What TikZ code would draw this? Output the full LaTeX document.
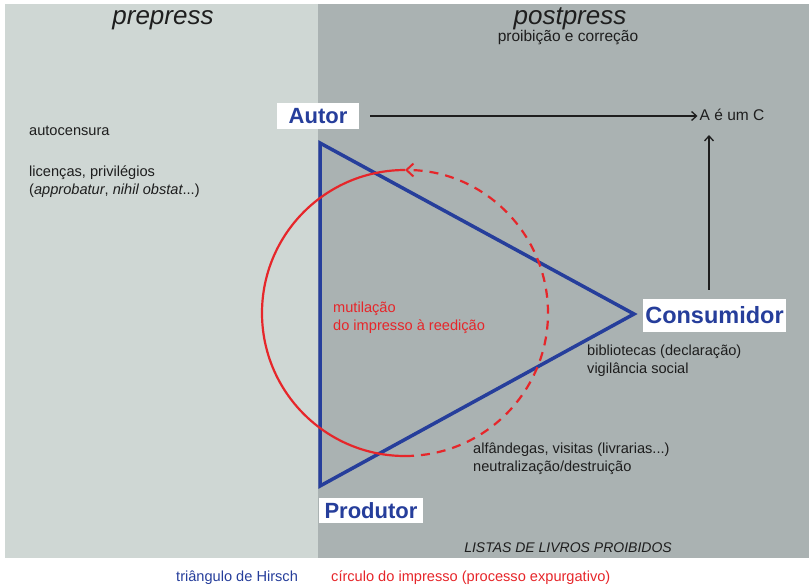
\documentclass[tikz,border=0pt]{standalone}
\usepackage{fontspec}
\setmainfont{Liberation Sans}
\usetikzlibrary{arrows.meta}
\definecolor{prebg}{RGB}{207,215,212}
\definecolor{postbg}{RGB}{170,178,178}
\definecolor{hblue}{RGB}{38,62,155}
\definecolor{cred}{RGB}{230,38,42}
\definecolor{ink}{RGB}{30,30,30}
\tikzset{
  actor/.style={fill=white,text=hblue,font=\fontsize{22}{22}\selectfont\bfseries,inner sep=0pt},
  note/.style={anchor=base west,text=ink,font=\fontsize{14.6}{18}\selectfont,align=left,inner sep=0pt},
  phase/.style={anchor=base,text=ink,font=\fontsize{26}{26}\selectfont\itshape,inner sep=0pt},
  flow/.style={line width=1.3pt,ink,-{Straight Barb[length=5pt,width=9pt,line width=1.3pt]}}
}
\begin{document}
\begin{tikzpicture}[x=1pt,y=1pt]
\useasboundingbox (0,0) rectangle (809,-587);
% the two phases
\fill[prebg] (5,-4) rectangle (318,-558);
\fill[postbg] (318,-4) rectangle (809,-558);
\node[phase] (pre) at (163,-24) {prepress};
\node[phase] (post) at (570,-24) {postpress};
\node[note,anchor=base,font=\fontsize{15.5}{18}\selectfont] (postsub) at (568,-41) {proibição e correção};
% prepress notes
\node[note] (auto) at (29,-135) {autocensura};
\node[note] (lic) at (29,-194) {licenças, privilégios\\(\textit{approbatur}, \textit{nihil obstat}...)};
% triangle of Hirsch
\coordinate (ta) at (320,-143);
\coordinate (tp) at (320,-486);
\coordinate (tc) at (634,-314);
\draw[hblue,line width=3.5pt,line join=miter] (ta) -- (tc) -- (tp) -- cycle;
% circle of the printed book
\coordinate (ctop) at (405,-170);
\coordinate (cbot) at (405,-456);
\draw[cred,line width=2.2pt] (ctop) arc (90:270:143);
\draw[cred,line width=2.2pt,dash pattern=on 9pt off 7pt,-{Straight Barb[length=7pt,width=13pt,line width=2pt]}] (cbot) arc (270:450:143);
\node[note,text=cred] (mut) at (333,-330) {mutilação\\do impresso à reedição};
% actors
\node[actor,minimum width=82pt,minimum height=26pt] (autor) at (318,-116) {Autor};
\node[actor,font=\fontsize{23.5}{23.5}\selectfont\bfseries,minimum width=143pt,minimum height=33pt] (cons) at (714.5,-315.5) {Consumidor};
\node[actor,minimum width=104pt,minimum height=25pt] (prod) at (371,-510.5) {Produtor};
\node[note,anchor=base,font=\fontsize{15.5}{18}\selectfont] (aec) at (732,-120) {A é um C};
\coordinate (upx) at (709,-135);
\draw[flow] (autor.east) ++(11pt,0) coordinate (af) -- ([xshift=-2pt]aec.west |- af);
\draw[flow] (upx |- cons.north) ++(0,9pt) -- (upx);
% postpress notes
\node[note] (bib) at (587,-373) {bibliotecas (declaração)\\vigilância social};
\node[note] (alf) at (473,-471) {alfândegas, visitas (livrarias...)\\neutralização/destruição};
\node[note,font=\fontsize{14}{14}\selectfont\itshape,anchor=base] (listas) at (568,-552) {LISTAS DE LIVROS PROIBIDOS};
% legend
\node[note,text=hblue] (legt) at (176,-581) {triângulo de Hirsch};
\node[note,text=cred] (legc) at (331,-581) {círculo do impresso (processo expurgativo)};
\end{tikzpicture}
\end{document}
